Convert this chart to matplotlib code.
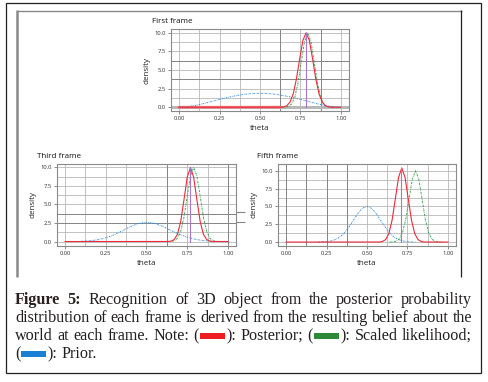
import matplotlib
matplotlib.use("Agg")
import matplotlib.pyplot as plt
from matplotlib.patches import Rectangle
from matplotlib.lines import Line2D
from matplotlib.ticker import MultipleLocator

W, H = 489, 382

# ---- data ----
x_ticks = [0.0, 0.25, 0.5, 0.75, 1.0]
x_tick_labels = ["0.00", "0.25", "0.50", "0.75", "1.00"]
y_ticks = [0.0, 2.5, 5.0, 7.5, 10.0]
y_tick_labels = ["0.0", "2.5", "5.0", "7.5", "10.0"]

# First frame
first_prior_theta = [0.0, 0.05, 0.1, 0.15, 0.2, 0.25, 0.3, 0.35, 0.4, 0.45, 0.5,
                     0.55, 0.6, 0.65, 0.7, 0.75, 0.8, 0.85, 0.9, 0.95, 1.0]
first_prior = [0.0, 0.07, 0.24, 0.49, 0.77, 1.05, 1.32, 1.55, 1.73, 1.84, 1.88,
               1.84, 1.73, 1.55, 1.32, 1.05, 0.77, 0.49, 0.24, 0.07, 0.0]
first_post_theta = [0.0, 0.625, 0.645, 0.665, 0.685, 0.705, 0.725, 0.745, 0.765, 0.785,
                    0.805, 0.825, 0.845, 0.865, 0.885, 0.905, 0.925, 0.945, 1.0]
first_post = [0.0, 0.01, 0.05, 0.20, 0.67, 1.77, 3.78, 6.49, 8.97, 10.0,
              8.97, 6.49, 3.78, 1.77, 0.67, 0.20, 0.05, 0.01, 0.0]
first_lik_theta = [0.635, 0.655, 0.675, 0.695, 0.715, 0.735, 0.755, 0.775, 0.795,
                   0.815, 0.835, 0.855, 0.875, 0.895, 0.915, 0.935, 0.955]
first_lik = [0.0, 0.02, 0.11, 0.44, 1.35, 3.25, 6.07, 8.82, 10.0,
             8.82, 6.07, 3.25, 1.35, 0.44, 0.11, 0.02, 0.0]
first_map = 0.785

# Third frame
third_prior_theta = [0.1, 0.15, 0.2, 0.25, 0.3, 0.35, 0.4, 0.45, 0.5,
                     0.55, 0.6, 0.65, 0.7, 0.75, 0.8, 0.85, 0.9]
third_prior = [0.04, 0.10, 0.24, 0.50, 0.90, 1.43, 1.99, 2.43, 2.60,
               2.45, 2.05, 1.50, 1.00, 0.60, 0.30, 0.12, 0.04]
third_post_theta = [0.0, 0.63, 0.65, 0.67, 0.69, 0.71, 0.73, 0.75, 0.77,
                    0.79, 0.81, 0.83, 0.85, 0.87, 0.89, 0.91, 1.0]
third_post = [0.0, 0.01, 0.05, 0.26, 0.97, 2.68, 5.58, 8.64, 10.0,
              8.64, 5.58, 2.68, 0.97, 0.26, 0.05, 0.01, 0.0]
third_lik_theta = [0.63, 0.65, 0.67, 0.69, 0.71, 0.73, 0.75, 0.77, 0.79,
                   0.81, 0.83, 0.85, 0.87, 0.89, 0.91, 0.93, 0.95]
third_lik = [0.0, 0.02, 0.11, 0.44, 1.35, 3.25, 6.07, 8.82, 10.0,
             8.82, 6.07, 3.25, 1.35, 0.44, 0.11, 0.02, 0.0]
third_map = 0.77

# Fifth frame
fifth_prior_theta = [0.2, 0.225, 0.25, 0.275, 0.3, 0.325, 0.35, 0.375, 0.4, 0.425,
                     0.45, 0.475, 0.5, 0.525, 0.55, 0.575, 0.6, 0.625, 0.65, 0.675,
                     0.7, 0.725, 0.75, 0.775, 0.8]
fifth_prior = [0.0, 0.03, 0.07, 0.15, 0.31, 0.60, 1.05, 1.70, 2.50, 3.39,
               4.21, 4.79, 5.0, 4.79, 4.21, 3.39, 2.50, 1.70, 1.05, 0.60,
               0.31, 0.15, 0.07, 0.03, 0.0]
fifth_post_theta = [0.0, 0.575, 0.595, 0.615, 0.635, 0.655, 0.675, 0.695, 0.715,
                    0.735, 0.755, 0.775, 0.795, 0.815, 0.835, 0.855, 1.0]
fifth_post = [0.0, 0.01, 0.08, 0.35, 1.19, 3.07, 6.05, 9.08, 10.4,
              9.08, 6.05, 3.07, 1.19, 0.35, 0.08, 0.01, 0.0]
fifth_lik_theta = [0.64, 0.66, 0.68, 0.70, 0.72, 0.74, 0.76, 0.78, 0.80,
                   0.82, 0.84, 0.86, 0.88, 0.90, 0.92, 0.94, 0.96]
fifth_lik = [0.0, 0.02, 0.11, 0.44, 1.35, 3.25, 6.07, 8.82, 10.0,
             8.82, 6.07, 3.25, 1.35, 0.44, 0.11, 0.02, 0.0]
fifth_map = 0.71

caption_lines = [
    "*Figure *5: Recognition of 3D object from the posterior probability",
    "distribution of each frame is derived from the resulting belief about the",
    "world at each frame. Note: ({R}): Posterior; ({G}): Scaled likelihood;",
    "({B}): Prior.",
]

# ---- style ----
RED = "#ee2a3a"
GREEN = "#3aa050"
BLUE = "#3c8fd6"
PURPLE = "#a878c8"
GRID = "#b8b8b8"
DARK_GRID = "#858585"
AX_FONT = "Open Sans"
CAP_FONT = "Liberation Serif"
swatch_colors = {"R": "#ed1c24", "G": "#2e8a38", "B": "#1b80d4"}

fig = plt.figure(figsize=(W / 100, H / 100), dpi=100)


def fig_rect(left, top, right, bottom):
    return [left / W, 1 - bottom / H, (right - left) / W, (bottom - top) / H]


def fig_line(x0, y0, x1, y1, color, lw):
    fig.add_artist(Line2D([x0 / W, x1 / W], [1 - y0 / H, 1 - y1 / H],
                          transform=fig.transFigure, color=color, lw=lw,
                          solid_capstyle="butt"))


def draw_panel(px, title_x, title, prior_t, prior, post_t, post, lik_t, lik, map_theta,
               ylim, dark_x, dark_y, thick_zero=False):
    ax = fig.add_axes(fig_rect(*px))
    ax.set_xlim(-0.05, 1.05)
    ax.set_ylim(*ylim)
    ax.set_xticks(x_ticks)
    ax.set_xticklabels(x_tick_labels)
    ax.set_yticks(y_ticks)
    ax.set_yticklabels(y_tick_labels)
    ax.xaxis.set_minor_locator(MultipleLocator(0.125))
    ax.yaxis.set_minor_locator(MultipleLocator(1.25))
    ax.grid(which="both", color=GRID, lw=0.6)
    ax.tick_params(which="minor", length=0)
    ax.tick_params(which="major", length=2, width=0.6, color="#777777",
                   labelsize=4.2, labelcolor="#333333", pad=1.5)
    for lab in ax.get_xticklabels() + ax.get_yticklabels():
        lab.set_family(AX_FONT)
    for v in dark_x:
        ax.axvline(v, color=DARK_GRID, lw=0.7, zorder=0.6)
    for v in dark_y:
        ax.axhline(v, color=DARK_GRID, lw=0.7, zorder=0.6)
    for s in ax.spines.values():
        s.set_color("#8a8a8a")
        s.set_linewidth(0.8)
    ax.set_axisbelow(True)

    if thick_zero:
        ax.axhline(0, color="#b8b8b8", lw=2.2, zorder=0.7)
        ax.plot(post_t[:2], post[:2], color="#ec7c80", lw=2.0, zorder=1)

    ax.plot(prior_t, prior, color=BLUE, lw=0.7, ls=(0, (1.5, 1, 0.6, 1)))
    ax.plot(lik_t, lik, color=GREEN, lw=0.7, ls=(0, (2, 1, 0.6, 1)))
    ax.plot(post_t, post, color=RED, lw=0.8)
    ax.plot([map_theta, map_theta], [0, max(post)], color=PURPLE, lw=0.8)

    ax.set_xlabel("theta", fontsize=5.8, family=AX_FONT, color="#222222", labelpad=3)
    ax.set_ylabel("density", fontsize=5.8, family=AX_FONT, color="#222222", labelpad=3)
    ax.set_title(title, fontsize=5.8, family=AX_FONT, color="#111111",
                 loc="left", x=(title_x - px[0]) / (px[2] - px[0]), pad=4.5)
    return ax


draw_panel((171, 29, 349, 111), 152, "First frame", first_prior_theta, first_prior,
           first_post_theta, first_post, first_lik_theta, first_lik, first_map,
           (-0.5, 10.5), [0.625, 0.875], [3.75, 6.25], thick_zero=True)
draw_panel((57, 164, 236, 246), 37, "Third frame", third_prior_theta, third_prior,
           third_post_theta, third_post, third_lik_theta, third_lik, third_map,
           (-0.6, 10.45), [0.625, 1.0], [2.5, 3.75])
draw_panel((278, 164, 456, 246), 257, "Fifth frame", fifth_prior_theta, fifth_prior,
           fifth_post_theta, fifth_post, fifth_lik_theta, fifth_lik, fifth_map,
           (-0.55, 10.95), [0.0, 0.125, 0.25, 0.375], [])

# grid lines of the third frame that run past its right edge
fig_line(236, 212.5, 245, 212.5, DARK_GRID, 0.8)
fig_line(236, 222, 245, 222, DARK_GRID, 0.8)

# frames around the figure image and the caption box
fig_line(17, 10, 17, 277, "#8a8a8a", 1.8)
fig_line(17, 10.5, 462, 10.5, "#8a8a8a", 1.0)
fig_line(461.5, 10, 461.5, 277, "#222222", 0.9)
fig.add_artist(Rectangle((6.5 / W, 1 - 372.5 / H), 475 / W, 369.5 / H,
                         transform=fig.transFigure, fill=False,
                         ec="#231f20", lw=0.9))

# ---- justified caption ----
renderer = fig.canvas.get_renderer()
cap_size = 10.0
SW_W, SW_H = 25, 5.5


def measure(s, weight, size):
    t = fig.text(0, 0, s, fontsize=size, family=CAP_FONT, weight=weight)
    w = t.get_window_extent(renderer=renderer).width
    t.remove()
    return w


def split_word(word):
    weight = "normal"
    if word.startswith("*"):
        weight, word = "bold", word[1:]
    pieces = []
    while "{" in word:
        i = word.index("{")
        if i > 0:
            pieces.append(("t", word[:i]))
        pieces.append(("s", word[i + 1]))
        word = word[i + 3:]
    if word:
        pieces.append(("t", word))
    return pieces, weight


def word_width(pieces, weight, size):
    w = 0
    for kind, val in pieces:
        w += measure(val, weight, size) if kind == "t" else SW_W + 2
    return w


# fit the font size so the second line fills the text width
x0, x1 = 15, 472
natural = sum(word_width(*split_word(w), cap_size) for w in caption_lines[1].split())
space = measure("a a", "normal", cap_size) - measure("aa", "normal", cap_size)
natural += space * (len(caption_lines[1].split()) - 1)
cap_size = cap_size * (x1 - x0) / natural
space = measure("a a", "normal", cap_size) - measure("aa", "normal", cap_size)

baselines = [304, 322, 340, 358]
for li, line in enumerate(caption_lines):
    words = [split_word(w) for w in line.split()]
    widths = [word_width(p, wt, cap_size) for p, wt in words]
    if li < len(caption_lines) - 1:
        gap = (x1 - x0 - sum(widths)) / (len(words) - 1)
    else:
        gap = space
    x = x0
    base = baselines[li]
    for (pieces, weight), ww in zip(words, widths):
        cx = x
        for kind, val in pieces:
            if kind == "t":
                fig.text(cx / W, 1 - base / H, val, fontsize=cap_size, family=CAP_FONT,
                         weight=weight, color="#2a1f1f" if weight == "bold" else "#231f20",
                         va="baseline", ha="left")
                cx += measure(val, weight, cap_size)
            else:
                fig.add_artist(Rectangle(((cx + 1) / W, 1 - (base - 1.5) / H),
                                         SW_W / W, SW_H / H, transform=fig.transFigure,
                                         fc=swatch_colors[val], ec="none"))
                cx += SW_W + 2
        x += ww + gap

fig.savefig("out.png", dpi=100)
